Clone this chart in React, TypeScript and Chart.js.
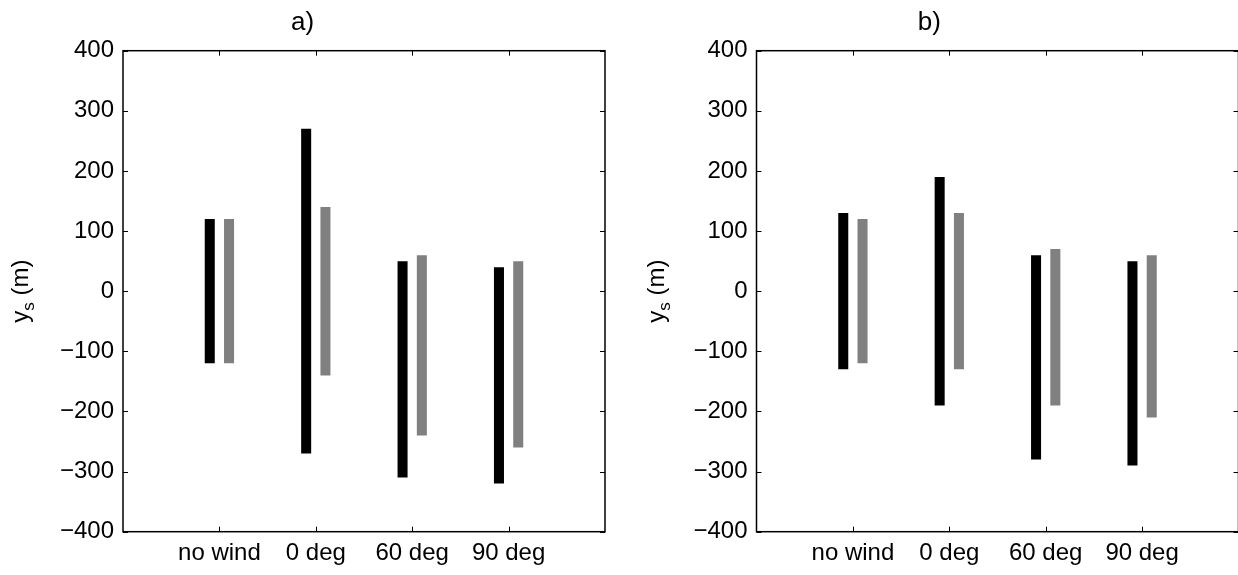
import React, { useEffect, useRef } from 'react';
import { Chart, registerables } from 'chart.js';

Chart.register(...registerables);

// ---- data ----
const categories = ['no wind', '0 deg', '60 deg', '90 deg'];
const yTicks = [-400, -300, -200, -100, 0, 100, 200, 300, 400];
const titleA = 'a)';
const titleB = 'b)';
const aBlackLow = [-120, -270, -310, -320];
const aBlackHigh = [120, 270, 50, 40];
const aGrayLow = [-120, -140, -240, -260];
const aGrayHigh = [120, 140, 60, 50];
const bBlackLow = [-130, -190, -280, -290];
const bBlackHigh = [130, 190, 60, 50];
const bGrayLow = [-120, -130, -190, -210];
const bGrayHigh = [120, 130, 70, 60];

const FONT = "'Liberation Sans', Arial, Helvetica, sans-serif";
const FS = 24;
const TITLE_FS = 26;

const framePlugin = {
  id: 'matlabFrame',
  afterDraw(chart: any, _args: any, opts: any) {
    const { ctx } = chart;
    const { left, right, top, bottom } = chart.chartArea;
    const xs = chart.scales.x;
    const ys = chart.scales.y;
    const L = 5;
    ctx.save();
    ctx.strokeStyle = '#000';
    ctx.lineWidth = 1;
    ctx.beginPath();
    for (let i = 1; i < xs.ticks.length - 1; i++) {
      const px = Math.round(xs.getPixelForTick(i)) + 0.5;
      ctx.moveTo(px, bottom);
      ctx.lineTo(px, bottom - L);
      ctx.moveTo(px, top);
      ctx.lineTo(px, top + L);
    }
    ys.ticks.forEach((t: any) => {
      const py = Math.round(ys.getPixelForValue(t.value)) + 0.5;
      ctx.moveTo(left, py);
      ctx.lineTo(left + L, py);
      ctx.moveTo(right, py);
      ctx.lineTo(right - L, py);
    });
    ctx.stroke();
    ctx.lineWidth = 1.5;
    ctx.strokeRect(left, top, right - left, bottom - top);

    // y label with subscript
    const off = opts.yLabelOffset ?? 94;
    ctx.translate(left - off, (top + bottom) / 2);
    ctx.rotate(-Math.PI / 2);
    ctx.fillStyle = '#000';
    ctx.textBaseline = 'alphabetic';
    ctx.textAlign = 'left';
    const mainFont = `${FS}px ${FONT}`;
    const subFont = `${Math.round(FS * 0.72)}px ${FONT}`;
    ctx.font = mainFont;
    const wY = ctx.measureText('y').width;
    const wM = ctx.measureText(' (m)').width;
    ctx.font = subFont;
    const wS = ctx.measureText('s').width;
    const x0 = -(wY + wS + wM) / 2;
    ctx.font = mainFont;
    ctx.fillText('y', x0, 0);
    ctx.font = subFont;
    ctx.fillText('s', x0 + wY, 6);
    ctx.font = mainFont;
    ctx.fillText(' (m)', x0 + wY + wS, 0);
    ctx.restore();
  },
};

type PanelProps = {
  title: string;
  blackLow: number[];
  blackHigh: number[];
  grayLow: number[];
  grayHigh: number[];
  yAxisWidth: number;
  padRight: number;
  left: number;
  yLabelOffset: number;
};

function Panel(p: PanelProps) {
  const ref = useRef<HTMLCanvasElement | null>(null);
  useEffect(() => {
    if (!ref.current) return;
    const labels = ['', ...categories, ''];
    const pairs = (lo: number[], hi: number[]) => [null, ...lo.map((v, i) => [v, hi[i]]), null];
    const chart = new Chart(ref.current, {
      type: 'bar',
      data: {
        labels,
        datasets: [
          {
            data: pairs(p.blackLow, p.blackHigh) as any,
            backgroundColor: '#000000',
            borderWidth: 0,
            categoryPercentage: 0.4,
            barPercentage: 0.52,
          },
          {
            data: pairs(p.grayLow, p.grayHigh) as any,
            backgroundColor: '#808080',
            borderWidth: 0,
            categoryPercentage: 0.4,
            barPercentage: 0.52,
          },
        ],
      },
      options: {
        responsive: false,
        animation: false,
        devicePixelRatio: 1,
        layout: { padding: { left: 0, right: p.padRight, top: 0, bottom: 0 } },
        plugins: {
          legend: { display: false },
          tooltip: { enabled: false },
          title: {
            display: true,
            text: p.title,
            color: '#000',
            font: { family: FONT, size: TITLE_FS, weight: 'normal' as any, lineHeight: 1.2 },
            padding: { top: 7.4, bottom: 12.1 },
          },
          matlabFrame: { yLabelOffset: p.yLabelOffset },
        } as any,
        scales: {
          x: {
            type: 'category',
            offset: false,
            grid: { display: false, drawTicks: false },
            border: { display: false },
            ticks: {
              autoSkip: false,
              maxRotation: 0,
              minRotation: 0,
              padding: 0,
              color: '#000',
              font: { family: FONT, size: FS, lineHeight: 1.83 },
            },
            afterFit: (s: any) => {
              s.height = 575 - 531.7;
            },
          },
          y: {
            type: 'linear',
            min: -400,
            max: 400,
            grid: { display: false, drawTicks: false },
            border: { display: false },
            afterBuildTicks: (s: any) => {
              s.ticks = yTicks.map((v) => ({ value: v }));
            },
            ticks: {
              padding: 9,
              color: '#000',
              font: { family: FONT, size: FS },
              callback: (v: any) => String(v).replace('-', '\u2212'),
            },
            afterFit: (s: any) => {
              s.width = p.yAxisWidth;
            },
          },
        },
      },
      plugins: [framePlugin as any],
    });
    return () => chart.destroy();
  }, []);
  return (
    <canvas
      ref={ref}
      width={620}
      height={575}
      style={{ position: 'absolute', left: p.left, top: 0, width: 620, height: 575 }}
    />
  );
}

export default function App() {
  return (
    <div
      style={{
        position: 'absolute',
        left: 0,
        top: 0,
        width: 1238,
        height: 575,
        overflow: 'hidden',
        background: '#fff',
      }}
    >
      <Panel
        title={titleA}
        blackLow={aBlackLow}
        blackHigh={aBlackHigh}
        grayLow={aGrayLow}
        grayHigh={aGrayHigh}
        yAxisWidth={123}
        padRight={15}
        left={0}
        yLabelOffset={95}
      />
      <Panel
        title={titleB}
        blackLow={bBlackLow}
        blackHigh={bBlackHigh}
        grayLow={bGrayLow}
        grayHigh={bGrayHigh}
        yAxisWidth={136.5}
        padRight={1.5}
        left={620}
        yLabelOffset={93}
      />
    </div>
  );
}
